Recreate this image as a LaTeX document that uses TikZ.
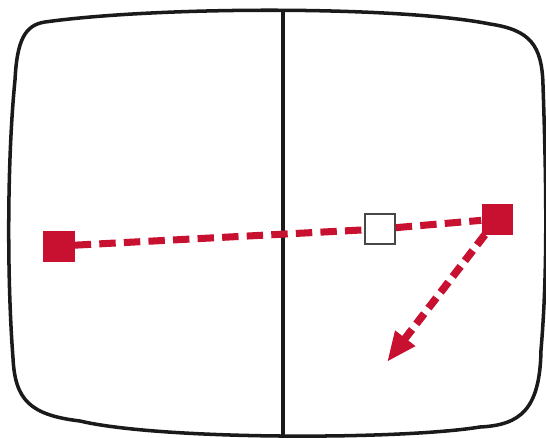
\documentclass[tikz,border=0pt]{standalone}
\usepackage{xcolor}
\usepackage{tikz}
\usetikzlibrary{arrows.meta}
\definecolor{markred}{HTML}{C81030}
\definecolor{frameK}{HTML}{1A1A1A}

\begin{document}
\begin{tikzpicture}[
  x=0.03cm, y=-0.03cm,
  sq/.style={rectangle, minimum size=0.93cm, inner sep=0pt, fill=markred},
  hollowsq/.style={rectangle, minimum size=0.9cm, inner sep=0pt, draw=frameK!80, line width=1.2pt, fill=white},
  dashline/.style={markred, line width=6pt, dash pattern=on 14pt off 7pt},
  dasharrow/.style={markred, line width=6.5pt, dash pattern=on 11pt off 6pt, -{Triangle[length=9mm,width=7mm]}}
]
\useasboundingbox (0,0) rectangle (546,438);
% screen outline
\draw[frameK, line width=3pt]
  (15,80) .. controls (17,40) and (25,25) .. (45,22)
  .. controls (160,6) and (400,6) .. (490,24)
  .. controls (530,30) and (542,45) .. (543,85)
  .. controls (547,200) and (547,280) .. (541,350)
  .. controls (540,410) and (520,425) .. (480,427)
  .. controls (400,440) and (160,440) .. (80,421)
  .. controls (30,415) and (15,400) .. (13,358)
  .. controls (7,280) and (7,160) .. (15,80) -- cycle;
% divider
\coordinate (divtop) at (283,9);
\coordinate (divbot) at (283,436);
\draw[frameK, line width=2.6pt] (divtop) -- (divbot);

% markers
\node[sq] (lsq) at (59,246) {};
\node[hollowsq] (hsq) at (380,229) {};
\node[sq] (rsq) at (497,219) {};
\coordinate (tip) at (387,362);

\draw[dashline] (lsq) -- (hsq);
\draw[dashline] (hsq) -- (rsq);
\draw[dasharrow] (rsq) -- (tip);
\end{tikzpicture}
\end{document}
